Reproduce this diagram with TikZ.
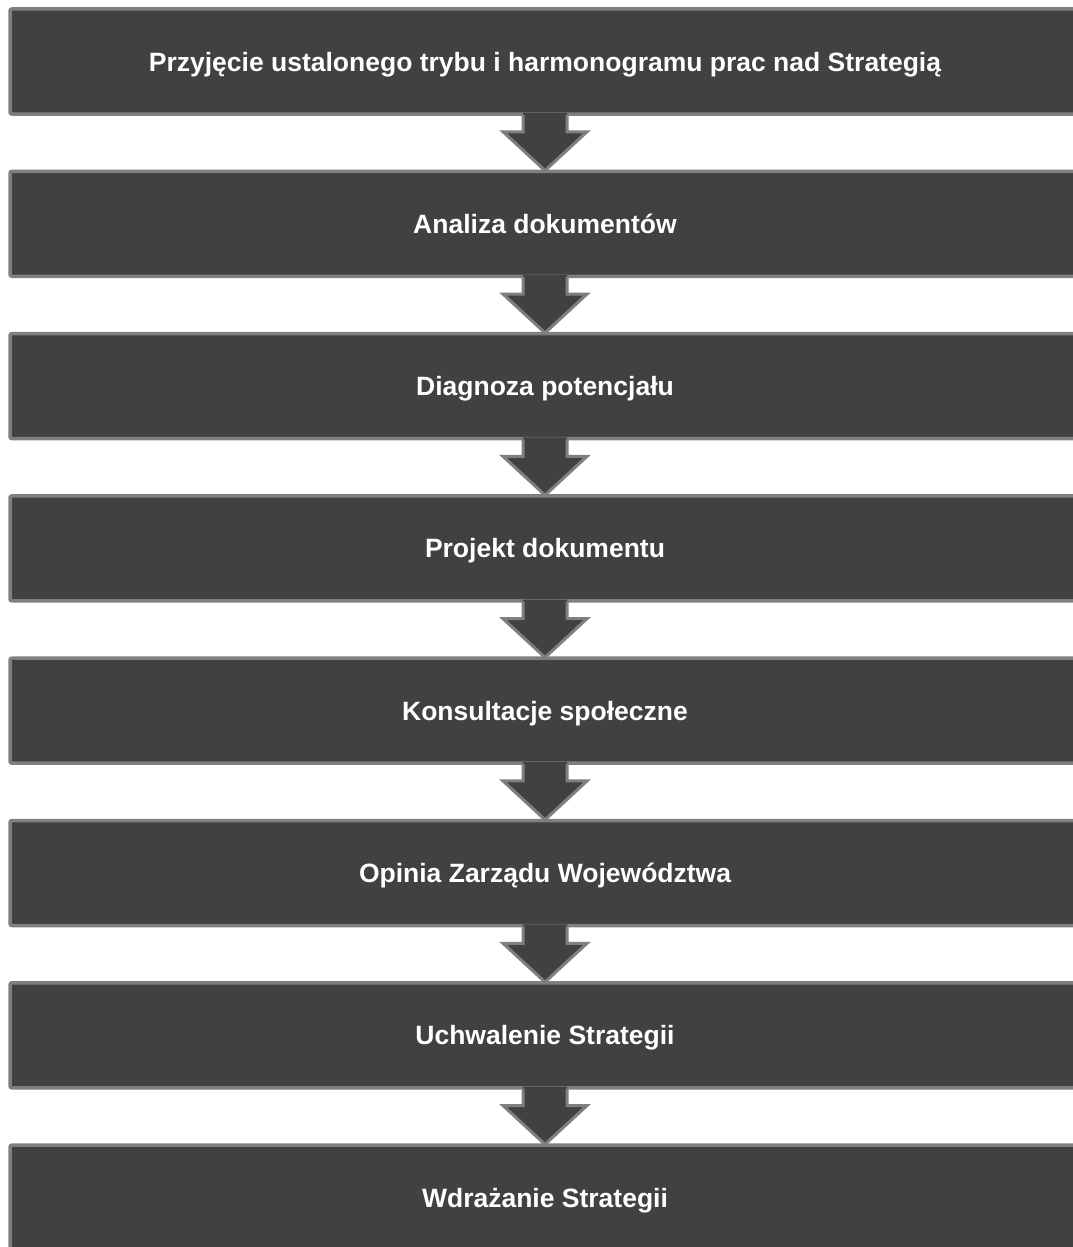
\documentclass[tikz,border=0pt]{standalone}
\usepackage{fontspec}
\setmainfont{Liberation Sans}
\usetikzlibrary{calc}
\definecolor{boxfill}{HTML}{414042}
\definecolor{boxline}{HTML}{7F7F7F}
\tikzset{
  stepbox/.style={rectangle, draw=boxline, fill=boxfill, line width=3.5pt, rounded corners=2pt,
    minimum width=1070pt, minimum height=105pt, inner sep=0pt, text height=19pt, text depth=0pt,
    text=white, font=\fontsize{26.5}{30}\selectfont\bfseries},
  arrowfill/.style={fill=boxfill},
  arrowline/.style={draw=boxline, line width=3pt, line join=miter}
}
\newcommand{\flowarrow}[2]{%
  \fill[arrowfill] ($(#1.south)+(-22,-3)$) -- ($(#1.south)+(-22,16)$) -- ($(#1.south)+(-42,16)$)
    -- ($(#2.north)+(0,1)$) -- ($(#1.south)+(42,16)$) -- ($(#1.south)+(22,16)$) -- ($(#1.south)+(22,-3)$) -- cycle;
  \draw[arrowline] ($(#1.south)+(-22,-1)$) -- ($(#1.south)+(-22,16)$) -- ($(#1.south)+(-42,16)$)
    -- ($(#2.north)+(0,1)$) -- ($(#1.south)+(42,16)$) -- ($(#1.south)+(22,16)$) -- ($(#1.south)+(22,-1)$);
}
\begin{document}
\begin{tikzpicture}[x=1pt,y=-1pt]
\useasboundingbox (0,0) rectangle (1072,1247);
\node[stepbox] (b1) at (545,61.5) {Przyjęcie ustalonego trybu i harmonogramu prac nad Strategią};
\node[stepbox] (b2) at (545,223.8) {Analiza dokumentów};
\node[stepbox] (b3) at (545,386.1) {Diagnoza potencjału};
\node[stepbox] (b4) at (545,548.4) {Projekt dokumentu};
\node[stepbox] (b5) at (545,710.7) {Konsultacje społeczne};
\node[stepbox] (b6) at (545,873.0) {Opinia Zarządu Województwa};
\node[stepbox] (b7) at (545,1035.3) {Uchwalenie Strategii};
\node[stepbox] (b8) at (545,1197.6) {Wdrażanie Strategii};
\flowarrow{b1}{b2}
\flowarrow{b2}{b3}
\flowarrow{b3}{b4}
\flowarrow{b4}{b5}
\flowarrow{b5}{b6}
\flowarrow{b6}{b7}
\flowarrow{b7}{b8}
\end{tikzpicture}
\end{document}
